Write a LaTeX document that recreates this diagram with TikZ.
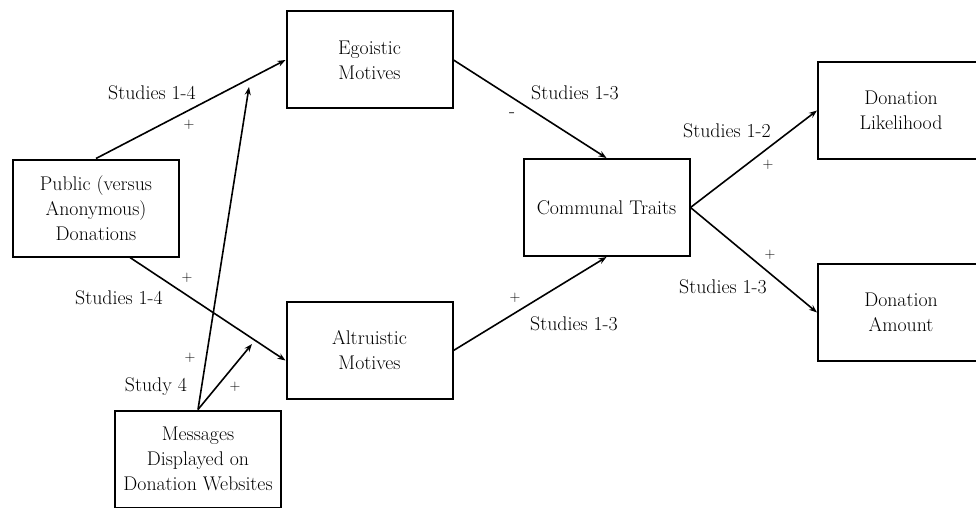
\documentclass[tikz,border=0pt]{standalone}
\usetikzlibrary{arrows.meta}

\tikzset{
    box/.style={draw, line width=2pt, minimum width=166pt, minimum height=97pt, align=center, inner sep=2pt},
    link/.style={line width=1.6pt, -{Stealth[length=8pt, width=6pt]}},
    lbl/.style={inner sep=0pt},
    sign/.style={inner sep=0pt, font=\fontsize{15}{15}\selectfont},
}

\begin{document}
\begin{tikzpicture}[x=1pt, y=-1pt, font=\rmfamily\fontsize{19.8}{25}\selectfont]
    \fill[white] (0,0) rectangle (976,508);
    \clip (0,0) rectangle (976,508);

    % boxes
    \node[box] (pub) at (96,208) {Public (versus\\Anonymous)\\Donations};
    \node[box] (ego) at (369.5,60) {Egoistic\\Motives};
    \node[box] (alt) at (369.5,350.5) {Altruistic\\Motives};
    \node[box] (msg) at (198,459) {Messages\\Displayed on\\Donation Websites};
    \node[box] (com) at (606.5,207.5) {Communal Traits};
    \node[box] (lik) at (901,110.5) {Donation\\Likelihood};
    \node[box] (amt) at (901,312.5) {Donation\\Amount};

    % where the moderating arrows end
    \coordinate (modA) at (249,87);
    \coordinate (modB) at (252,344);

    % paths
    \draw[link] (pub.north) -- (ego.west);
    \draw[link] ([xshift=34pt]pub.south) -- ([yshift=-10pt]alt.west);
    \draw[link] (ego.east) -- (com.north);
    \draw[link] (alt.east) -- (com.south);
    \draw[link] (com.east) -- (lik.west);
    \draw[link] (com.east) -- (amt.west);
    \draw[link] (msg.north) -- (modA);
    \draw[link] (msg.north) -- (modB);

    % labels
    \node[lbl] (s1) at (152,93) {Studies 1-4};
    \node[sign] (p1) at (189,125) {+};
    \node[lbl] (s2) at (119,298) {Studies 1-4};
    \node[sign] (p2) at (187,278) {+};
    \node[sign] (p3) at (190,358) {+};
    \node[lbl] (s3) at (156,387) {Study 4};
    \node[sign] (p4) at (235,387) {+};
    \node[lbl] (s4) at (575,93) {Studies 1-3};
    \node[lbl] (m1) at (512,115) {-};
    \node[lbl] (s5) at (574,324) {Studies 1-3};
    \node[sign] (p5) at (515,298) {+};
    \node[lbl] (s6) at (727,131) {Studies 1-2};
    \node[sign] (p6) at (768,165) {+};
    \node[lbl] (s7) at (723,287) {Studies 1-3};
    \node[sign] (p7) at (770,255) {+};
\end{tikzpicture}
\end{document}
